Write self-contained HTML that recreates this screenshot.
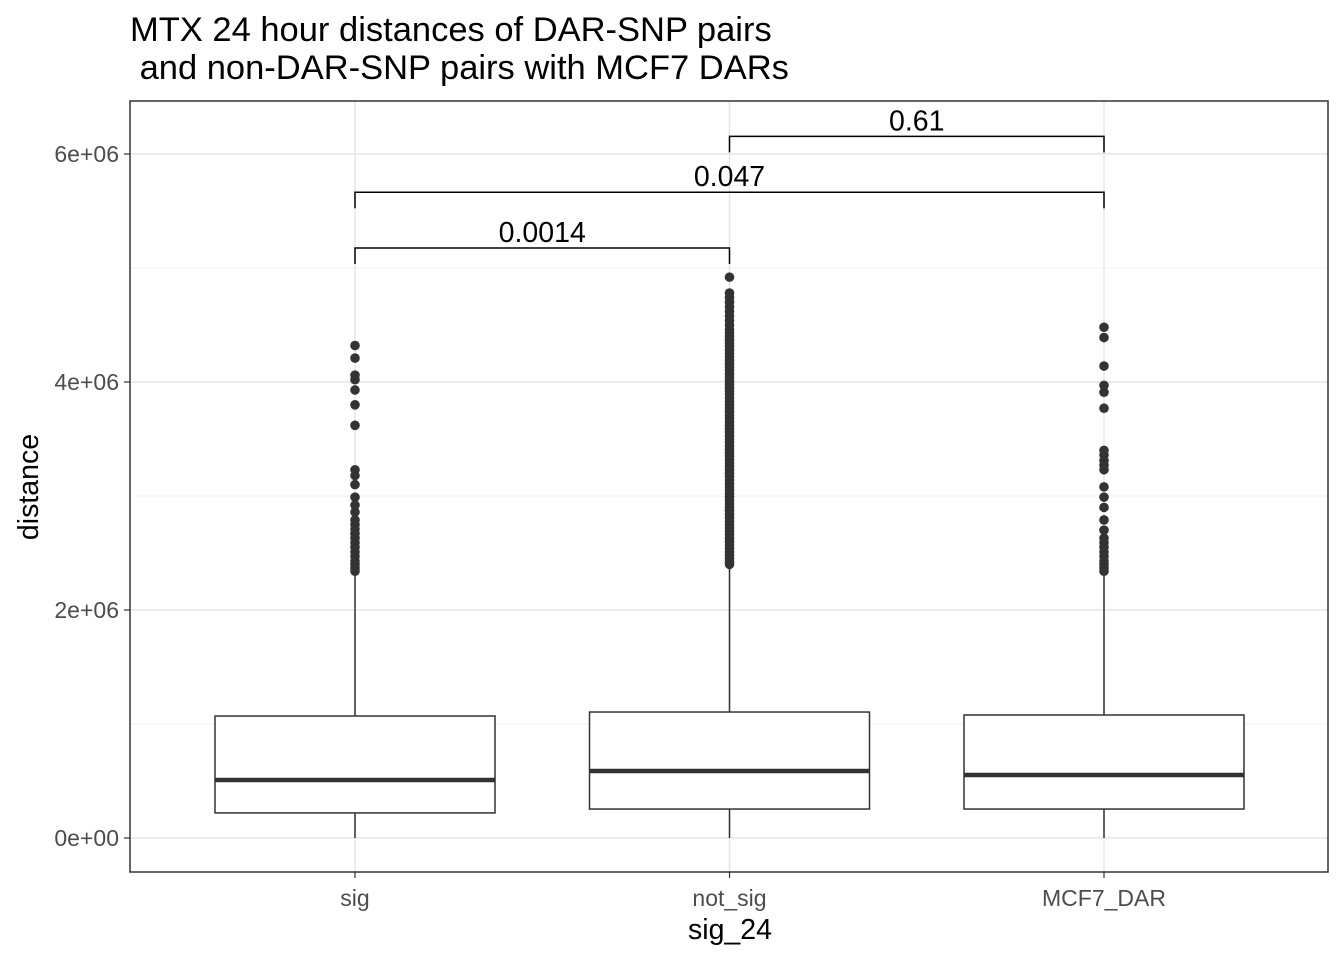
<!DOCTYPE html>
<html><head><meta charset="utf-8"><style>body{margin:0;background:#fff}svg{display:block;font-family:"Liberation Sans",Arial,sans-serif}</style></head>
<body>
<svg id="chart" width="1344" height="960">
<text x="130" y="41" font-size="34.5" fill="#000">MTX 24 hour distances of DAR-SNP pairs</text>
<text x="130" y="79" font-size="34.5" fill="#000" xml:space="preserve"> and non-DAR-SNP pairs with MCF7 DARs</text>
<g id="grid"></g><g id="marks"></g><g id="axes"></g>
<text x="730" y="939" font-size="28.5" text-anchor="middle">sig_24</text>
<text transform="translate(38,487) rotate(-90)" font-size="28.5" text-anchor="middle">distance</text>
</svg>
<script>
const categories=["sig","not_sig","MCF7_DAR"];
const q1=[0.22,0.254,0.254];
const medians=[0.509,0.588,0.553];
const q3=[1.07,1.105,1.079];
const whiskerLow=[0,0,0];
const whiskerHigh=[2.33,2.38,2.33];
const outliersSig=[4.32,4.21,4.06,4.02,3.93,3.80,3.62,3.23,3.18,3.10,2.99,2.92,2.86,2.79,2.75,2.71,2.67,2.63,2.59,2.55,2.51,2.47,2.43,2.40,2.37,2.34];
const outliersNotSig=[4.92,4.78,4.74,4.70,4.66,4.62,4.58,4.54,4.50,4.46,4.43,4.40,4.37,4.34,4.31,4.28,4.25,4.22,4.19,4.16,4.13,4.10,4.07,4.04,4.01,3.98,3.95,3.92,3.89,3.86,3.83,3.80,3.77,3.74,3.71,3.68,3.65,3.62,3.59,3.56,3.53,3.50,3.47,3.44,3.41,3.38,3.35,3.32,3.29,3.26,3.23,3.20,3.17,3.14,3.11,3.08,3.05,3.02,2.99,2.96,2.93,2.90,2.87,2.84,2.81,2.78,2.75,2.72,2.69,2.66,2.63,2.60,2.57,2.54,2.51,2.48,2.45,2.42,2.40];
const outliersMCF7=[4.48,4.39,4.14,3.97,3.91,3.77,3.40,3.36,3.31,3.27,3.23,3.08,2.99,2.90,2.79,2.70,2.63,2.59,2.55,2.51,2.47,2.43,2.40,2.37,2.34];
const yTicks=[0,2,4,6];
const yTickLabels=["0e+00","2e+06","4e+06","6e+06"];
const comparisons=[[0,1,5.175,"0.0014"],[0,2,5.665,"0.047"],[1,2,6.155,"0.61"]];
const L=130,R=1328,T=101,B=872;
const y=v=>838-v*114;
const x=i=>355+i*374.5;
const NS="http://www.w3.org/2000/svg";
function mk(p,tag,a){const e=document.createElementNS(NS,tag);for(const k in a)e.setAttribute(k,a[k]);p.appendChild(e);return e;}
const grid=document.getElementById('grid'),marks=document.getElementById('marks'),axes=document.getElementById('axes');
mk(grid,'rect',{x:L,y:T,width:R-L,height:B-T,fill:'#fff'});
[1,3,5].forEach(v=>{const g=mk(grid,'line',{x1:L,x2:R,y1:y(v),y2:y(v),stroke:'#f0f0f0','stroke-width':1});

});
yTicks.forEach((v,i)=>{const g=mk(grid,'line',{x1:L,x2:R,y1:y(v),y2:y(v),stroke:'#e6e6e6','stroke-width':1.5});


const t=mk(axes,'line',{x1:L-6,x2:L,y1:y(v),y2:y(v),stroke:'#333','stroke-width':1.2});


const l=mk(axes,'text',{x:L-11,y:y(v)+8,'font-size':23,fill:'#4d4d4d','text-anchor':'end'});l.textContent=yTickLabels[i];

});
categories.forEach((c,i)=>{const g=mk(grid,'line',{x1:x(i),x2:x(i),y1:T,y2:B,stroke:'#e6e6e6','stroke-width':1.5});


const t=mk(axes,'line',{x1:x(i),x2:x(i),y1:B,y2:B+6,stroke:'#333','stroke-width':1.2});


const l=mk(axes,'text',{x:x(i),y:906,'font-size':23,fill:'#4d4d4d','text-anchor':'middle'});l.textContent=c;

});
const outs=[outliersSig,outliersNotSig,outliersMCF7];
categories.forEach((c,i)=>{const g=mk(marks,'g',{});


mk(g,'line',{x1:x(i),x2:x(i),y1:y(whiskerLow[i]),y2:y(q1[i]),stroke:'#333','stroke-width':1.5});
mk(g,'line',{x1:x(i),x2:x(i),y1:y(q3[i]),y2:y(whiskerHigh[i]),stroke:'#333','stroke-width':1.5});
mk(g,'rect',{x:x(i)-140,y:y(q3[i]),width:280,height:y(q1[i])-y(q3[i]),fill:'#fff',stroke:'#333','stroke-width':1.5});
mk(g,'line',{x1:x(i)-140,x2:x(i)+140,y1:y(medians[i]),y2:y(medians[i]),stroke:'#333','stroke-width':4.5});
outs[i].forEach(v=>{const p=mk(g,'circle',{cx:x(i),cy:y(v),r:4.8,fill:'#333'});

});});
comparisons.forEach(cm=>{const [a,b,v,lab]=cm;const g=mk(marks,'g',{});


const yy=y(v);
mk(g,'path',{d:`M${x(a)},${yy+16}V${yy}H${x(b)}V${yy+16}`,fill:'none',stroke:'#000','stroke-width':1.5});
const t=mk(g,'text',{x:(x(a)+x(b))/2,y:yy-6,'font-size':28.5,'text-anchor':'middle'});t.textContent=lab;});
mk(axes,'rect',{x:L,y:T,width:R-L,height:B-T,fill:'none',stroke:'#333','stroke-width':1.5});
</script>
</body></html>
